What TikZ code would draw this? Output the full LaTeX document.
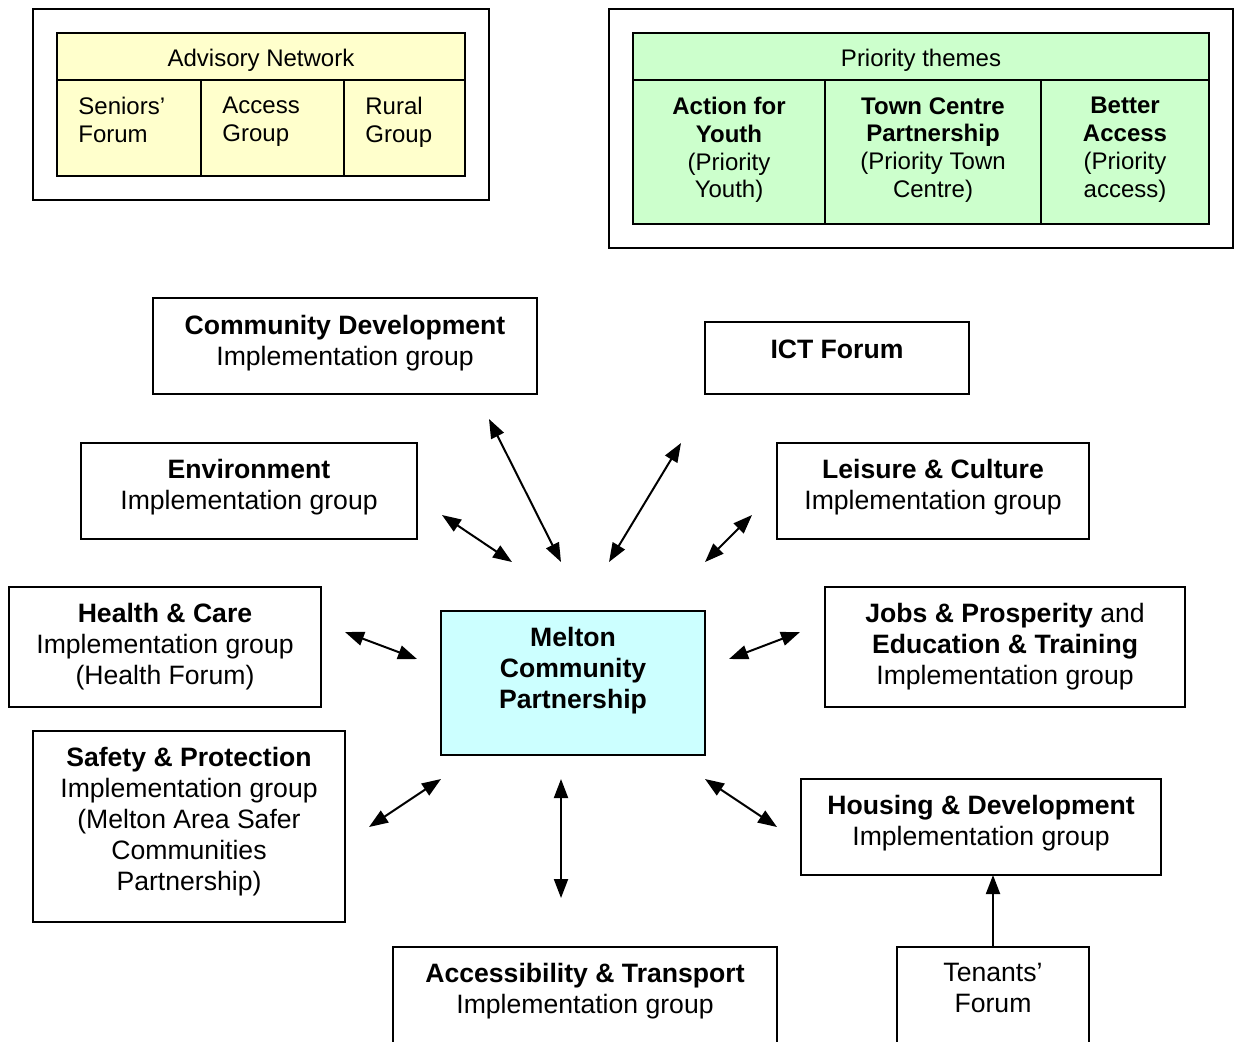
\documentclass[tikz,border=0pt]{standalone}
\usepackage{fontspec}
\setmainfont{Liberation Sans}
\usetikzlibrary{arrows.meta}
\definecolor{paleyellow}{HTML}{FFFFCC}
\definecolor{palegreen}{HTML}{CCFFCC}
\definecolor{palecyan}{HTML}{CCFFFF}
\begin{document}
\begin{tikzpicture}[x=0.5pt,y=-0.5pt,
  box/.style n args={2}{draw, line width=1pt, inner sep=0pt, outer sep=0pt,
    minimum width=#1*0.5pt, minimum height=#2*0.5pt},
  maintext/.style={inner sep=0pt, anchor=north, align=center,
    font=\fontsize{13.3}{15.5}\selectfont},
  smalltext/.style={inner sep=0pt, align=center,
    font=\fontsize{12}{13.85}\selectfont},
  tip/.style={Triangle[length=9.5pt,width=7pt]},
  link/.style={line width=1pt, {Triangle[length=9.5pt,width=7pt]}-{Triangle[length=9.5pt,width=7pt]}},
  oneway/.style={line width=1pt, -{Triangle[length=9.5pt,width=7pt]}}
]
\clip (0,0) rectangle (1234,1041);
\fill[white] (0,0) rectangle (1234,1041);

% ---- Advisory network table ----
\node[box={456}{191}] (advframe) at (261,104.5) {};
\node[box={408}{47}, fill=paleyellow] (advhead) at (261,56.5) {};
\node[box={144}{96}, fill=paleyellow] (seniors) at (129,128) {};
\node[box={143}{96}, fill=paleyellow] (access) at (272.5,128) {};
\node[box={121}{96}, fill=paleyellow] (rural) at (404.5,128) {};
\node[smalltext, anchor=north] (advhead-t) at (261,49) {Advisory Network};
\node[smalltext, anchor=north west, align=left] (seniors-t) at (78,97) {Seniors’\\Forum};
\node[smalltext, anchor=north west, align=left] (access-t) at (222,97) {Access\\Group};
\node[smalltext, anchor=north west, align=left] (rural-t) at (365,97) {Rural\\Group};

% ---- Priority themes table ----
\node[box={624}{239}] (prioframe) at (921,128.5) {};
\node[box={576}{47}, fill=palegreen] (priohead) at (921,56.5) {};
\node[box={192}{144}, fill=palegreen] (youth) at (729,152) {};
\node[box={216}{144}, fill=palegreen] (towncentre) at (933,152) {};
\node[box={168}{144}, fill=palegreen] (better) at (1125,152) {};
\node[smalltext, anchor=north] (priohead-t) at (921,49) {Priority themes};
\node[smalltext, anchor=north] (youth-t) at (729,97) {\textbf{Action for}\\\textbf{Youth}\\(Priority\\Youth)};
\node[smalltext, anchor=north] (towncentre-t) at (933,97) {\textbf{Town Centre}\\\textbf{Partnership}\\(Priority Town\\Centre)};
\node[smalltext, anchor=north] (better-t) at (1125,97) {\textbf{Better}\\\textbf{Access}\\(Priority\\access)};

% ---- Implementation groups ----
\node[box={384}{96}] (commdev) at (345,346) {};
\node[maintext] at (345,315) {\textbf{Community Development}\\Implementation group};

\node[box={264}{72}] (ict) at (837,358) {};
\node[maintext] at (837,340) {\textbf{ICT Forum}};

\node[box={336}{96}] (environment) at (249,491) {};
\node[maintext] at (249,459) {\textbf{Environment}\\Implementation group};

\node[box={312}{96}] (leisure) at (933,491) {};
\node[maintext] at (933,459) {\textbf{Leisure \& Culture}\\Implementation group};

\node[box={312}{120}] (health) at (165,647) {};
\node[maintext] at (165,603) {\textbf{Health \& Care}\\Implementation group\\(Health Forum)};

\node[box={264}{144}, fill=palecyan] (melton) at (573,683) {};
\node[maintext] at (573,627) {\textbf{Melton}\\\textbf{Community}\\\textbf{Partnership}};

\node[box={360}{120}] (jobs) at (1005,647) {};
\node[maintext] at (1005,603) {\textbf{Jobs \& Prosperity} and\\\textbf{Education \& Training}\\Implementation group};

\node[box={312}{191}] (safety) at (189,826.5) {};
\node[maintext] at (189,747) {\textbf{Safety \& Protection}\\Implementation group\\(Melton Area Safer\\Communities\\Partnership)};

\node[box={360}{96}] (housing) at (981,827) {};
\node[maintext] at (981,795) {\textbf{Housing \& Development}\\Implementation group};

\node[box={384}{120}] (accessibility) at (585,1007) {};
\node[maintext] at (585,963) {\textbf{Accessibility \& Transport}\\Implementation group};

\node[box={192}{120}] (tenants) at (993,1007) {};
\node[maintext] at (993,963) {Tenants’\\Forum};

% ---- Links around the partnership ----
\coordinate (envA) at (442,515);   \coordinate (envB) at (512,562);
\coordinate (cdA)  at (489,419);   \coordinate (cdB)  at (561,562);
\coordinate (ictA) at (609,562);   \coordinate (ictB) at (681,443);
\coordinate (leiA) at (705,562);   \coordinate (leiB) at (752,515);
\coordinate (heaA) at (345,632);   \coordinate (heaB) at (417,659);
\coordinate (jobA) at (729,659);   \coordinate (jobB) at (800,632);
\coordinate (safA) at (369,827);   \coordinate (safB) at (441,779);
\coordinate (accA) at (561,779);   \coordinate (accB) at (561,898);
\coordinate (houA) at (705,779);   \coordinate (houB) at (777,827);

\draw[link] (envA) -- (envB);
\draw[link] (cdA) -- (cdB);
\draw[link] (ictA) -- (ictB);
\draw[link] (leiA) -- (leiB);
\draw[link] (heaA) -- (heaB);
\draw[link] (jobA) -- (jobB);
\draw[link] (safA) -- (safB);
\draw[link] (accA) -- (accB);
\draw[link] (houA) -- (houB);

\draw[oneway] (tenants.north) -- (tenants.north |- housing.south);
\end{tikzpicture}
\end{document}
